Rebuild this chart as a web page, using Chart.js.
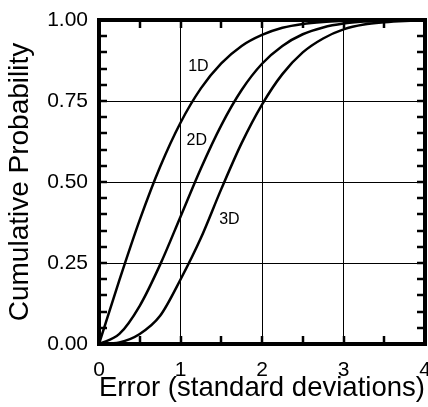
<!DOCTYPE html>
<html>
<head>
<meta charset="utf-8">
<script src="https://cdn.jsdelivr.net/npm/chart.js@4/dist/chart.umd.min.js"></script>
<style>
  html, body { margin: 0; padding: 0; background: #fff; }
  #wrap { width: 428px; height: 407px; }
</style>
</head>
<body>
<div id="wrap"><canvas id="cdf"></canvas></div>
<script>
// error in standard deviations
const errorX = [0, 0.25, 0.5, 0.75, 1, 1.25, 1.5, 1.75, 2, 2.25, 2.5, 2.75, 3, 3.25, 3.5, 3.75, 4];
// cumulative probability
const prob1D = [0, 0.197, 0.383, 0.547, 0.683, 0.789, 0.866, 0.920, 0.954, 0.976, 0.988, 0.994, 0.997, 0.999, 1.0, 1.0, 1.0];
const prob2D = [0, 0.031, 0.118, 0.245, 0.393, 0.542, 0.675, 0.784, 0.865, 0.920, 0.956, 0.977, 0.989, 0.995, 0.998, 0.999, 1.0];
const prob3D = [0, 0.005, 0.031, 0.087, 0.199, 0.327, 0.478, 0.620, 0.739, 0.833, 0.900, 0.943, 0.971, 0.986, 0.993, 0.997, 0.999];
const curveNames = ['1D', '2D', '3D'];
// where each curve name sits, in data units
const nameX = [1.22, 1.2, 1.6];
const nameY = [0.857, 0.628, 0.385];

const FONT = 'Arial, "Liberation Sans", sans-serif';

function toPoints(ys) {
    return errorX.map((x, i) => ({ x: x, y: ys[i] }));
}

// frame, inward ticks and curve names
const framePlugin = {
    id: 'frame',
    afterDatasetsDraw(chart) {
        const { ctx, chartArea: a, scales: { x, y } } = chart;
        ctx.save();
        ctx.strokeStyle = '#000';
        ctx.lineWidth = 2.5;
        ctx.beginPath();
        for (let v = 0.05; v < 1; v += 0.05) {
            const py = Math.round(y.getPixelForValue(v));
            ctx.moveTo(a.left, py); ctx.lineTo(a.left + 8, py);
            ctx.moveTo(a.right, py); ctx.lineTo(a.right - 8, py);
        }
        for (let v = 0.5; v < 4; v += 0.5) {
            const px = Math.round(x.getPixelForValue(v));
            ctx.moveTo(px, a.bottom); ctx.lineTo(px, a.bottom - 8);
            ctx.moveTo(px, a.top); ctx.lineTo(px, a.top + 8);
        }
        ctx.stroke();
        ctx.lineWidth = 4;
        ctx.strokeRect(a.left, a.top, a.right - a.left, a.bottom - a.top);

        ctx.fillStyle = '#000';
        ctx.font = '16px ' + FONT;
        ctx.textAlign = 'center';
        ctx.textBaseline = 'middle';
        curveNames.forEach((n, i) => {
            ctx.fillText(n, x.getPixelForValue(nameX[i]), y.getPixelForValue(nameY[i]));
        });
        ctx.restore();
    }
};

const line = (ys) => ({
    data: toPoints(ys),
    showLine: true,
    borderColor: '#000',
    borderWidth: 2.5,
    pointRadius: 0,
    fill: false,
    cubicInterpolationMode: 'monotone'
});

new Chart(document.getElementById('cdf'), {
    type: 'scatter',
    data: {
        datasets: [line(prob1D), line(prob2D), line(prob3D)]
    },
    options: {
        responsive: true,
        maintainAspectRatio: false,
        animation: false,
        layout: { padding: { top: 20, right: 3, left: 0, bottom: 0 } },
        plugins: { legend: { display: false }, tooltip: { enabled: false } },
        scales: {
            x: {
                type: 'linear', min: 0, max: 4,
                afterFit(s) { s.height = 63; s.paddingLeft = 0; s.paddingRight = 0; },
                border: { display: false },
                grid: { color: '#000', lineWidth: 1, drawTicks: false },
                ticks: { stepSize: 1, padding: 14, color: '#000', font: { family: FONT, size: 21 } },
                title: { display: true, text: 'Error (standard deviations)', color: '#000',
                         font: { family: FONT, size: 28 }, padding: { top: 0, bottom: 2 } }
            },
            y: {
                type: 'linear', min: 0, max: 1,
                afterFit(s) { s.width = 99; s.paddingTop = 0; s.paddingBottom = 0; },
                border: { display: false },
                grid: { color: '#000', lineWidth: 1, drawTicks: false },
                ticks: { stepSize: 0.25, padding: 11, color: '#000', font: { family: FONT, size: 21 },
                         callback: (v) => v.toFixed(2) },
                title: { display: true, text: 'Cumulative Probability', color: '#000',
                         font: { family: FONT, size: 28 }, padding: { top: 3, bottom: 0 } }
            }
        }
    },
    plugins: [framePlugin]
});
</script>
</body>
</html>
